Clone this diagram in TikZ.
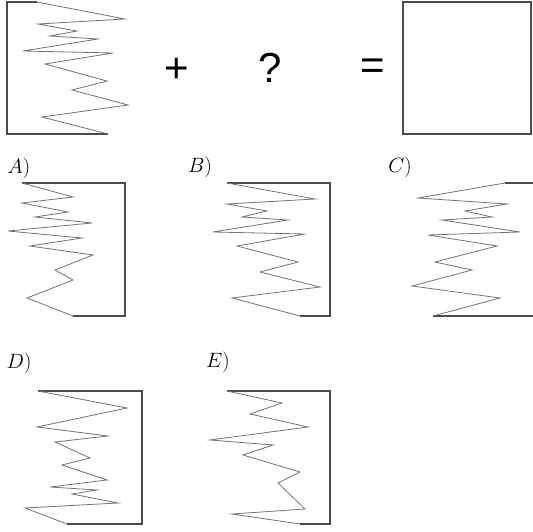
\documentclass[tikz,border=0pt]{standalone}
\usepackage{fontspec}
\newfontfamily\signfont{Liberation Sans}
\tikzset{
  frame/.style={draw=black!70, line width=1.3pt},
  zig/.style={draw=black!55, line width=0.8pt, line join=miter},
  sign/.style={font=\signfont\fontsize{42}{48}\selectfont},
  optlabel/.style={font=\fontsize{21}{24}\selectfont}
}
\begin{document}
\begin{tikzpicture}[x=1pt, y=-1pt]
        \useasboundingbox (0,0) rectangle (533,532);

        % Given figure
        \draw[frame] (37,2) -- (7,2) -- (7,134) -- (108,134);
        \draw[zig] (37,2) -- (125,19) -- (38,24) -- (77,31) -- (50,36) -- (98,39) -- (23,51) -- (113,53)
            -- (45,64) -- (107,81) -- (72,90) -- (128,105) -- (42,117) -- (108,134);
        \node[sign] (plus) at (177,70) {+};
        \node[sign] (ask) at (270,68) {?};
        \node[sign] (eq) at (373,69) {=};
        % Result
        \draw[frame] (403,2) rectangle (531,134);

        % A
        \node[optlabel] (la) at (19,168) {$A)$};
        \draw[frame] (22,183) -- (125,183) -- (125,316) -- (73,316);
        \draw[zig] (22,183) -- (73,197) -- (22,203) -- (68,212) -- (35,217) -- (92,223) -- (8,231) -- (82,238)
            -- (30,246) -- (93,255) -- (55,270) -- (73,280) -- (27,298) -- (73,316);
        % B
        \node[optlabel] (lb) at (200,167) {$B)$};
        \draw[frame] (227,183) -- (330,183) -- (330,316) -- (300,316);
        \draw[zig] (227,183) -- (315,199) -- (227,204) -- (267,211) -- (242,217) -- (288,220) -- (213,232) -- (305,234)
            -- (237,246) -- (298,262) -- (260,272) -- (320,287) -- (232,298) -- (300,316);
        % C
        \node[optlabel] (lc) at (400,167) {$C)$};
        \draw[frame] (505,183) -- (533,183);
        \draw[frame] (433,316) -- (533,316);
        \draw[zig] (505,183) -- (418,198) -- (507,204) -- (465,211) -- (492,217) -- (442,220) -- (520,232) -- (428,235)
            -- (497,246) -- (435,262) -- (472,270) -- (412,286) -- (500,298) -- (433,316);
        % D
        \node[optlabel] (ld) at (19,363) {$D)$};
        \draw[frame] (38,391) -- (142,391) -- (142,524) -- (67,524);
        \draw[zig] (38,391) -- (127,408) -- (37,427) -- (108,436) -- (55,442) -- (90,458) -- (62,465) -- (107,480)
            -- (50,487) -- (97,490) -- (72,494) -- (118,503) -- (25,508) -- (67,524);
        % E
        \node[optlabel] (le) at (218,362) {$E)$};
        \draw[frame] (227,391) -- (330,391) -- (330,524) -- (300,524);
        \draw[zig] (227,391) -- (282,403) -- (250,414) -- (308,427) -- (210,440) -- (273,445) -- (243,455) -- (300,472)
            -- (278,483) -- (305,509) -- (232,514) -- (300,524);
    \end{tikzpicture}
\end{document}
